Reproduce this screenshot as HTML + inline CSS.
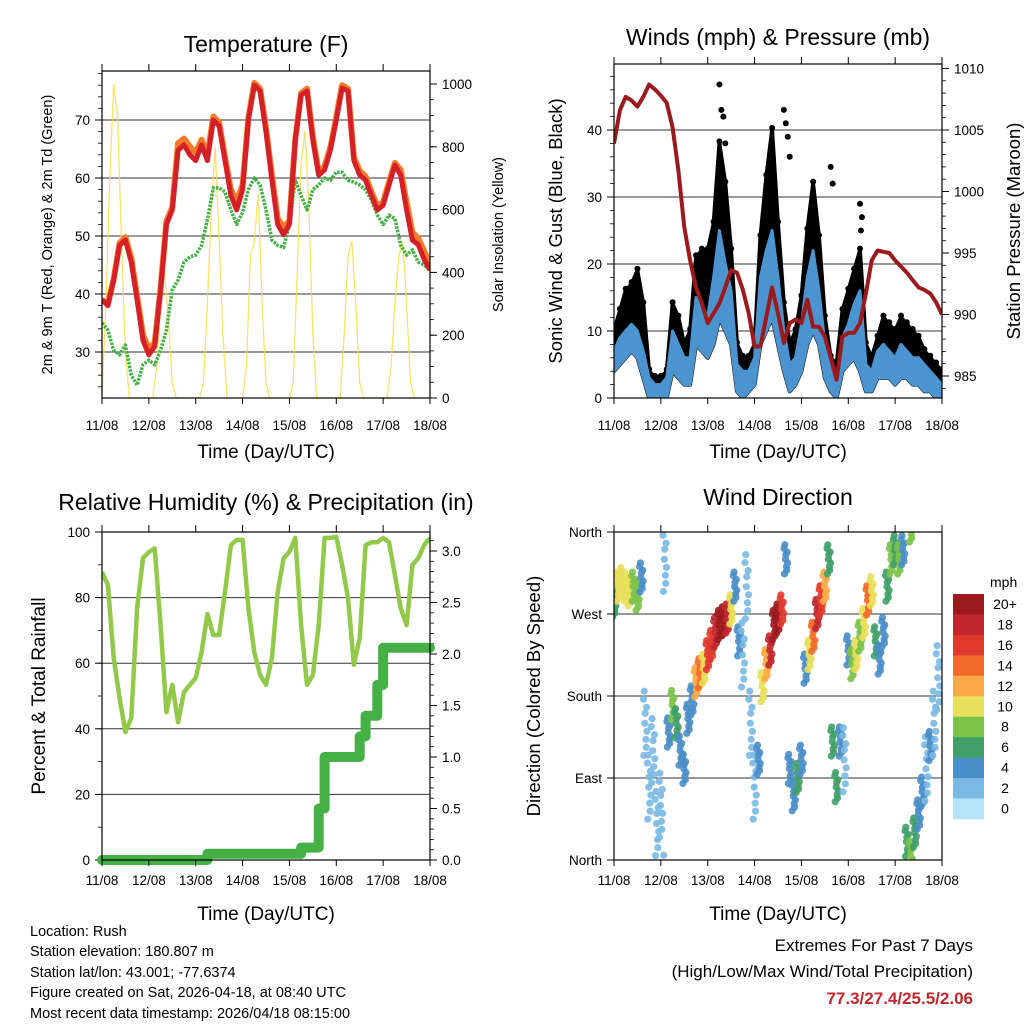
<!DOCTYPE html>
<html><head><meta charset="utf-8">
<style>
html,body{margin:0;padding:0;background:#fff;}
svg{display:block;font-family:"Liberation Sans",Arial,sans-serif;}
</style></head>
<body>
<svg id="chart" width="1024" height="1024" viewBox="0 0 1024 1024" xmlns="http://www.w3.org/2000/svg">
<rect x="0" y="0" width="1024" height="1024" fill="#fff"/>
<g id="layer"></g>
<g font-size="14.5" fill="#000">
<text x="30" y="936">Location: Rush</text>
<text x="30" y="956">Station elevation: 180.807 m</text>
<text x="30" y="977">Station lat/lon: 43.001; -77.6374</text>
<text x="30" y="997">Figure created on Sat, 2026-04-18, at 08:40 UTC</text>
<text x="30" y="1018">Most recent data timestamp: 2026/04/18 08:15:00</text>
</g>
<g text-anchor="end">
<text x="973" y="951" font-size="17">Extremes For Past 7 Days</text>
<text x="973" y="977" font-size="17">(High/Low/Max Wind/Total Precipitation)</text>
<text x="973" y="1004" font-size="17" font-weight="bold" fill="#c1272d">77.3/27.4/25.5/2.06</text>
</g>
</svg>
<script>
// ---- data (3-hour steps, hours 0..168) ----
const hours3 = [0,3,6,9,12,15,18,21,24,27,30,33,36,39,42,45,48,51,54,57,60,63,66,69,72,75,78,81,84,87,90,93,96,99,102,105,108,111,114,117,120,123,126,129,132,135,138,141,144,147,150,153,156,159,162,165,168];
const dayLabels = ["11/08","12/08","13/08","14/08","15/08","16/08","17/08","18/08"];
const temp2m = [39,38,42.4,48.4,49.3,45.5,39,32,29.5,31,40.7,52,54.5,64.8,65.7,64,63,65.7,63,70,69,63,57,54.5,58,70,76,75,68,59.7,52,50.2,52,66.5,74.3,75,66.5,60.5,61.4,64.8,70,75.5,75,63,60.5,59.6,57,54.5,55.3,58.8,62.2,60.5,54.5,49.3,48.5,46,44.1];
const temp9m = [39,38.3,42.6,48.8,49.8,46.2,39.6,33,30.5,31.6,41,52.5,55,66,66.8,65.4,64.4,66.6,63.8,70.6,69.6,63.6,58,56,58.8,70.4,76.4,75.4,68.6,60.5,53,51.5,52.6,66.8,74.6,75.4,67,61,62,65.3,70.5,76,75.4,63.6,61.2,60.3,57.6,55.2,55.8,59.3,62.6,61.4,55.8,50.6,49.6,47.4,45];
const dewpt2m = [35,33.8,30.3,29.5,31.2,26,24.3,27.8,28.6,27.8,30.3,33.8,40.7,42.4,45.5,46.4,46.7,48.4,52.8,58.3,58.3,57.6,54.5,52,54.1,58,60,58.8,54.5,49.3,48.4,48,52,59.6,57,54.5,58,58.8,60,59.6,61,61,59.6,59.3,58.8,58,56.2,53.6,52,53.6,53,48.4,46.7,47.6,45.5,45,44.1];
// solar insolation, 2-hour steps (W/m2)
const solar2h = [0,300,700,1000,900,500,150,0,0,0,0,0,0,0,100,300,400,250,50,0,0,0,0,0,0,0,50,300,600,800,500,200,0,0,0,0,0,100,450,500,650,300,50,0,0,0,0,0,0,50,400,750,850,600,200,0,0,0,0,0,0,0,200,450,500,300,50,0,0,0,0,0,0,0,100,300,450,500,300,50,0,0,0,0,0];
// winds (mph)
const gustHi = [10,13,16,17,19,14,4,3,3,4,14,12,8,10,21,22,22,26,38,32,22,8,6,6,8,24,33,40,26,14,8,10,15,25,32,24,12,6,5,13,16,19,22,8,6,9,12,11,10,12,11,10,9,7,6,5,4];
const windHi = [7,9,10,11,10,7,3,2,2,3,10,8,6,6,15,14,12,18,25,20,16,5,4,4,6,18,22,25,18,10,5,6,11,18,22,16,8,4,3,9,11,14,16,5,4,7,8,7,6,8,7,6,6,5,4,3,2];
const windLo = [4,5,6,7,6,3,0,0,0,0,4,3,2,2,8,7,6,8,12,10,8,1,0,1,2,8,10,12,8,4,1,2,4,8,10,8,3,1,0,4,5,6,4,1,1,3,3,3,2,3,3,2,2,1,1,0,0];
const gustPeakHours = [54,55,56,57,87,88,89,90,111,112,126,127,126.5];
const gustPeakValues = [46.8,43,42,38,43,41,39,36,34.5,32,29,27,25];
const pressure = [1003.9,1006.6,1007.7,1007.4,1006.9,1007.7,1008.7,1008.3,1007.8,1007.2,1005.2,1001.7,997.1,994.4,992.2,990.9,989.3,990.1,990.9,992.2,993.6,993.4,992,990.1,987.4,987.4,989.8,992.2,990.1,987.7,989.3,989.6,989.3,991.2,989,989,988.2,986.5,984.7,988.2,988.5,988.5,989.3,991.7,994.4,995.2,995.1,995,994.4,993.9,993.4,992.8,992.2,992,991.7,991,990];
// RH and precipitation
const relHum = [87.8,83.8,61.6,49.4,39,43.3,76.8,92,93.9,95,71.6,45.1,53.4,42,51.2,53.4,55.5,63.4,75,68.6,68.6,81.7,96,97.6,97.6,76.8,63.4,56.4,53.4,61.6,81.7,92,93.9,98.2,71.6,53.4,56.4,71.6,98.2,98.2,98.5,90,79.9,59.5,67.7,96,96.9,96.9,98.2,96.9,86.9,76.8,71.6,90,92,96,98.2];
const precipTotal = [0,0,0,0,0,0,0,0,0,0,0,0,0,0,0,0,0,0,0.06,0.06,0.06,0.06,0.06,0.06,0.06,0.06,0.06,0.06,0.06,0.06,0.06,0.06,0.06,0.06,0.12,0.12,0.12,0.5,1.0,1.0,1.0,1.0,1.0,1.0,1.2,1.4,1.4,1.7,2.06,2.06,2.06,2.06,2.06,2.06,2.06,2.06,2.06];
// wind direction (2-hour steps) and speed
const dirHours = [0,2,4,6,8,10,12,14,16,18,20,22,24,26,28,30,32,34,36,38,40,42,44,46,48,50,52,54,56,58,60,62,64,66,68,70,72,74,76,78,80,82,84,86,88,90,92,94,96,98,100,102,104,106,108,110,112,114,116,118,120,122,124,126,128,130,132,134,136,138,140,142,144,146,148,150,152,154,156,158,160,162,164,166];
const dirDeg = [283,300,305,300,295,300,290,310,150,80,120,40,60,330,140,170,150,120,100,155,175,195,205,210,225,236,250,258,262,265,275,300,240,225,300,150,80,110,190,215,230,258,265,275,330,100,70,90,110,210,225,245,270,285,300,330,130,80,130,110,230,215,225,245,260,285,295,240,220,250,300,330,340,330,340,20,5,30,50,75,100,125,150,200];
const dirSpeed = [6,9,10,10,9,8,7,4,1,1,1,1,1,2,4,7,6,4,4,4,4,12,14,9,15,16,18,20,20,17,10,3,3,2,1,2,2,3,9,12,17,20,20,15,4,4,4,6,3,4,10,14,18,16,12,5,6,5,3,2,3,7,9,8,10,14,10,5,3,4,5,7,5,7,4,5,7,6,4,3,2,3,2,2];
const speedBins = ["0","2","4","6","8","10","12","14","16","18","20+"];
const binColors = ["#b5e3f7","#7ab9e4","#4a8ec8","#40a068","#7cc24a","#e8df5a","#f9aa45","#f26a2a","#e03a2e","#c1272d","#9b1b1e"];

const NS = "http://www.w3.org/2000/svg";
const layer = document.getElementById("layer");
function el(tag, attrs, parent){
  const e = document.createElementNS(NS, tag);
  for (const k in attrs) e.setAttribute(k, attrs[k]);
  (parent||layer).appendChild(e);
  return e;
}
function lin(d0,d1,r0,r1){ return v => r0 + (v-d0)*(r1-r0)/(d1-d0); }

function makePanel(name, x0,y0,x1,y1){
  const g = el("g",{});
  
  
  const xs = lin(0,168,x0,x1);
  return {g,x0,y0,x1,y1,xs};
}
function frame(p){
  const r = el("rect",{x:p.x0,y:p.y0,width:p.x1-p.x0,height:p.y1-p.y0,fill:"none",stroke:"#000","stroke-width":1.2},p.g);
  
  
}
function xAxis(p, title, labOff){
  const ax = el("g",{},p.g);
  
  
  for (let i=0;i<dayLabels.length;i++){
    const x = p.xs(i*24);
    el("line",{x1:x,y1:p.y1,x2:x,y2:p.y1+6,stroke:"#000","stroke-width":1},ax);
    el("line",{x1:x,y1:p.y0,x2:x,y2:p.y0-7,stroke:"#000","stroke-width":1},ax);
    const t = el("text",{x:x,y:p.y1+labOff,"text-anchor":"middle","font-size":13.5},ax);
    t.textContent = dayLabels[i];
    
    
  }
  const tt = el("text",{x:(p.x0+p.x1)/2,y:p.y1+60,"text-anchor":"middle","font-size":19},ax);
  tt.textContent = title;
  
  
}
function yAxis(p, side, ys, ticks, labels, minor, grid, title, titleX, titleSize){
  const ax = el("g",{},p.g);
  
  
  const xe = side==="left" ? p.x0 : p.x1;
  const dir = side==="left" ? -1 : 1;
  (minor||[]).forEach(v=>{
    const y = ys(v); if (y<p.y0-0.5||y>p.y1+0.5) return;
    el("line",{x1:xe,y1:y,x2:xe+dir*4,y2:y,stroke:"#000","stroke-width":0.8},ax);
  });
  ticks.forEach((v,i)=>{
    const y = ys(v);
    if (grid) el("line",{x1:p.x0,y1:y,x2:p.x1,y2:y,stroke:"#000","stroke-width":1,"stroke-opacity":0.8},ax);
    el("line",{x1:xe,y1:y,x2:xe+dir*7,y2:y,stroke:"#000","stroke-width":1},ax);
    const t = el("text",{x:xe+dir*12,y:y+5,"text-anchor":side==="left"?"end":"start","font-size":13.5},ax);
    t.textContent = labels[i];
    
    
  });
  const cy = (p.y0+p.y1)/2;
  const tt = el("text",{x:titleX,y:cy,"text-anchor":"middle","font-size":titleSize,transform:`rotate(-90 ${titleX} ${cy})`},ax);
  tt.textContent = title;
  
  
}
function title(p, text, y){
  const t = el("text",{x:(p.x0+p.x1)/2,y:y,"text-anchor":"middle","font-size":23},p.g);
  t.textContent = text;
  
  
}
function pts(xsArr, vals, xs, ys){ return vals.map((v,i)=>xs(xsArr[i]).toFixed(1)+","+ys(v).toFixed(1)).join(" "); }
function clip(p,id){
  const d = el("clipPath",{id:id},p.g);
  el("rect",{x:p.x0,y:p.y0,width:p.x1-p.x0,height:p.y1-p.y0},d);
  return el("g",{"clip-path":`url(#${id})`},p.g);
}
function range(a,b,s){ const r=[]; for(let v=a; v<=b+1e-9; v+=s) r.push(+v.toFixed(3)); return r; }

// ===== Panel 1: Temperature =====
(function(){
  const p = makePanel('temperature-panel',102,71,430,398);
  const ys = lin(30,70,352,120);
  const yr = lin(0,1000,398,84);
  const hours2 = solar2h.map((_,i)=>i*2);
  yAxis(p,"left",ys,[30,40,50,60,70],["30","40","50","60","70"],range(24,78,2),true,"2m & 9m T (Red, Orange) & 2m Td (Green)",52,14.5);
  yAxis(p,"right",yr,[0,200,400,600,800,1000],["0","200","400","600","800","1000"],range(0,1040,50),false,"Solar Insolation (Yellow)",503,14.5);
  const c = clip(p,"clipT");
  const sl = el("polyline",{points:pts(hours2,solar2h,p.xs,yr),fill:"none",stroke:"#f9dc50","stroke-width":1.3,"stroke-opacity":0.85},c);
  
  
  const dl = el("polyline",{points:pts(hours3,dewpt2m,p.xs,ys),fill:"none",stroke:"#44b045","stroke-width":3.5,"stroke-dasharray":"2.5 1.2","stroke-linejoin":"round"},c);
  
  
  const ol = el("polyline",{points:pts(hours3,temp9m,p.xs,ys),fill:"none",stroke:"#f47a2a","stroke-width":6,"stroke-linejoin":"round"},c);
  
  
  const rl = el("polyline",{points:pts(hours3,temp2m,p.xs,ys),fill:"none",stroke:"#d42026","stroke-width":5,"stroke-linejoin":"round"},c);
  
  
  frame(p); xAxis(p,"Time (Day/UTC)",32); title(p,"Temperature (F)",52);
})();

// ===== Panel 2: Winds & Pressure =====
(function(){
  const p = makePanel('winds-pressure-panel',614,64,942,398);
  const ys = lin(0,40,398,130);
  const yr = lin(985,1005,376,130);
  yAxis(p,"left",ys,[0,10,20,30,40],["0","10","20","30","40"],range(0,48,2),true,"Sonic Wind & Gust (Blue, Black)",562,18.5);
  yAxis(p,"right",yr,[985,990,995,1000,1005,1010],["985","990","995","1000","1005","1010"],range(983,1010,1),false,"Station Pressure (Maroon)",1020,18.5);
  const c = clip(p,"clipW");
  const bandG = hours3.map((h,i)=>p.xs(h).toFixed(1)+","+ys(gustHi[i]).toFixed(1)).join(" ")+" "+hours3.slice().reverse().map((h,j)=>{const i=hours3.length-1-j;return p.xs(h).toFixed(1)+","+ys(windLo[i]).toFixed(1);}).join(" ");
  const gb = el("polygon",{points:bandG,fill:"#000",stroke:"#000","stroke-width":4,"stroke-linejoin":"round"},c);
  
  
  hours3.forEach((h,i)=>{
    const d = el("circle",{cx:p.xs(h),cy:ys(gustHi[i])-2,r:3},c);
    
    
  });
  gustPeakHours.forEach((h,i)=>{
    const d = el("circle",{cx:p.xs(h),cy:ys(gustPeakValues[i]),r:3},c);
    
    
  });
  const bandW = hours3.map((h,i)=>p.xs(h).toFixed(1)+","+ys(windHi[i]).toFixed(1)).join(" ")+" "+hours3.slice().reverse().map((h,j)=>{const i=hours3.length-1-j;return p.xs(h).toFixed(1)+","+ys(windLo[i]).toFixed(1);}).join(" ");
  const wb = el("polygon",{points:bandW,fill:"#4b94d0",stroke:"#4b94d0","stroke-width":3,"stroke-linejoin":"round"},c);
  
  
  const pl = el("polyline",{points:pts(hours3,pressure,p.xs,yr),fill:"none",stroke:"#9b1a1d","stroke-width":4,"stroke-linejoin":"round"},c);
  
  
  frame(p); xAxis(p,"Time (Day/UTC)",32); title(p,"Winds (mph) & Pressure (mb)",45);
})();

// ===== Panel 3: RH & Precip =====
(function(){
  const p = makePanel('humidity-precip-panel',102,532,430,860);
  const ys = lin(0,100,860,532);
  const yr = lin(0,3,860,551);
  yAxis(p,"left",ys,[0,20,40,60,80,100],["0","20","40","60","80","100"],range(0,100,10),true,"Percent & Total Rainfall",45,19);
  yAxis(p,"right",yr,[0,0.5,1,1.5,2,2.5,3],["0.0","0.5","1.0","1.5","2.0","2.5","3.0"],range(0,3.1,0.1),false,"",0,1);
  const c = clip(p,"clipR");
  const rh = el("polyline",{points:pts(hours3,relHum,p.xs,ys),fill:"none",stroke:"#92c94b","stroke-width":4.5,"stroke-linejoin":"round"},c);
  
  
  let step = "";
  precipTotal.forEach((v,i)=>{
    const x = p.xs(hours3[i]).toFixed(1), y = yr(v).toFixed(1);
    if (i===0) step += `${x},${y}`;
    else step += ` ${x},${yr(precipTotal[i-1]).toFixed(1)} ${x},${y}`;
  });
  const pr = el("polyline",{points:step,fill:"none",stroke:"#44b045","stroke-width":10,"stroke-linecap":"round","stroke-linejoin":"round"},p.g);
  
  
  frame(p); xAxis(p,"Time (Day/UTC)",25); title(p,"Relative Humidity (%) & Precipitation (in)",510);
})();

// ===== Panel 4: Wind Direction =====
(function(){
  const p = makePanel('wind-direction-panel',614,532,942,860);
  const ys = lin(0,360,860,532);
  yAxis(p,"left",ys,[0,90,180,270,360],["North","East","South","West","North"],[],true,"Direction (Colored By Speed)",540,18.5);
  const c = clip(p,"clipD");
  const jitD = [-16,-8,0,8,16,-4,5,-12,12];
  const jitT = [-0.7,0.3,-0.2,0.7,-0.5,0.9,0.0,0.5,-0.9];
  dirDeg.forEach((d,i)=>{
    const s = dirSpeed[i];
    const bin = Math.min(10, Math.floor(s/2+0.5));
    const spread = s < 3 ? 2.2 : 1;
    jitD.forEach((o,k)=>{
      let dd = d + o*spread;
      dd = ((dd%360)+360)%360;
      const pt = el("circle",{cx:p.xs(dirHours[i]+jitT[k]),cy:ys(dd),r:3.6,fill:binColors[bin],"fill-opacity":0.9},c);
      
      
    });
  });
  frame(p); xAxis(p,"Time (Day/UTC)",25); title(p,"Wind Direction",505);
  // colorbar
  const cb = el("g",{});
  
  
  const bx=953, by0=594, bh=20.45;
  const unit = el("text",{x:990,y:587,"font-size":14},cb);
  unit.textContent = "mph";
  
  
  for (let i=0;i<speedBins.length;i++){
    const k = speedBins.length-1-i;
    const r = el("rect",{x:bx,y:by0+i*bh,width:31,height:bh+0.4,fill:binColors[k]},cb);
    
    
    const t = el("text",{x:1005,y:by0+i*bh+15,"text-anchor":"middle","font-size":14},cb);
    t.textContent = speedBins[k];
    
    
  }
})();
</script>
</body></html>
